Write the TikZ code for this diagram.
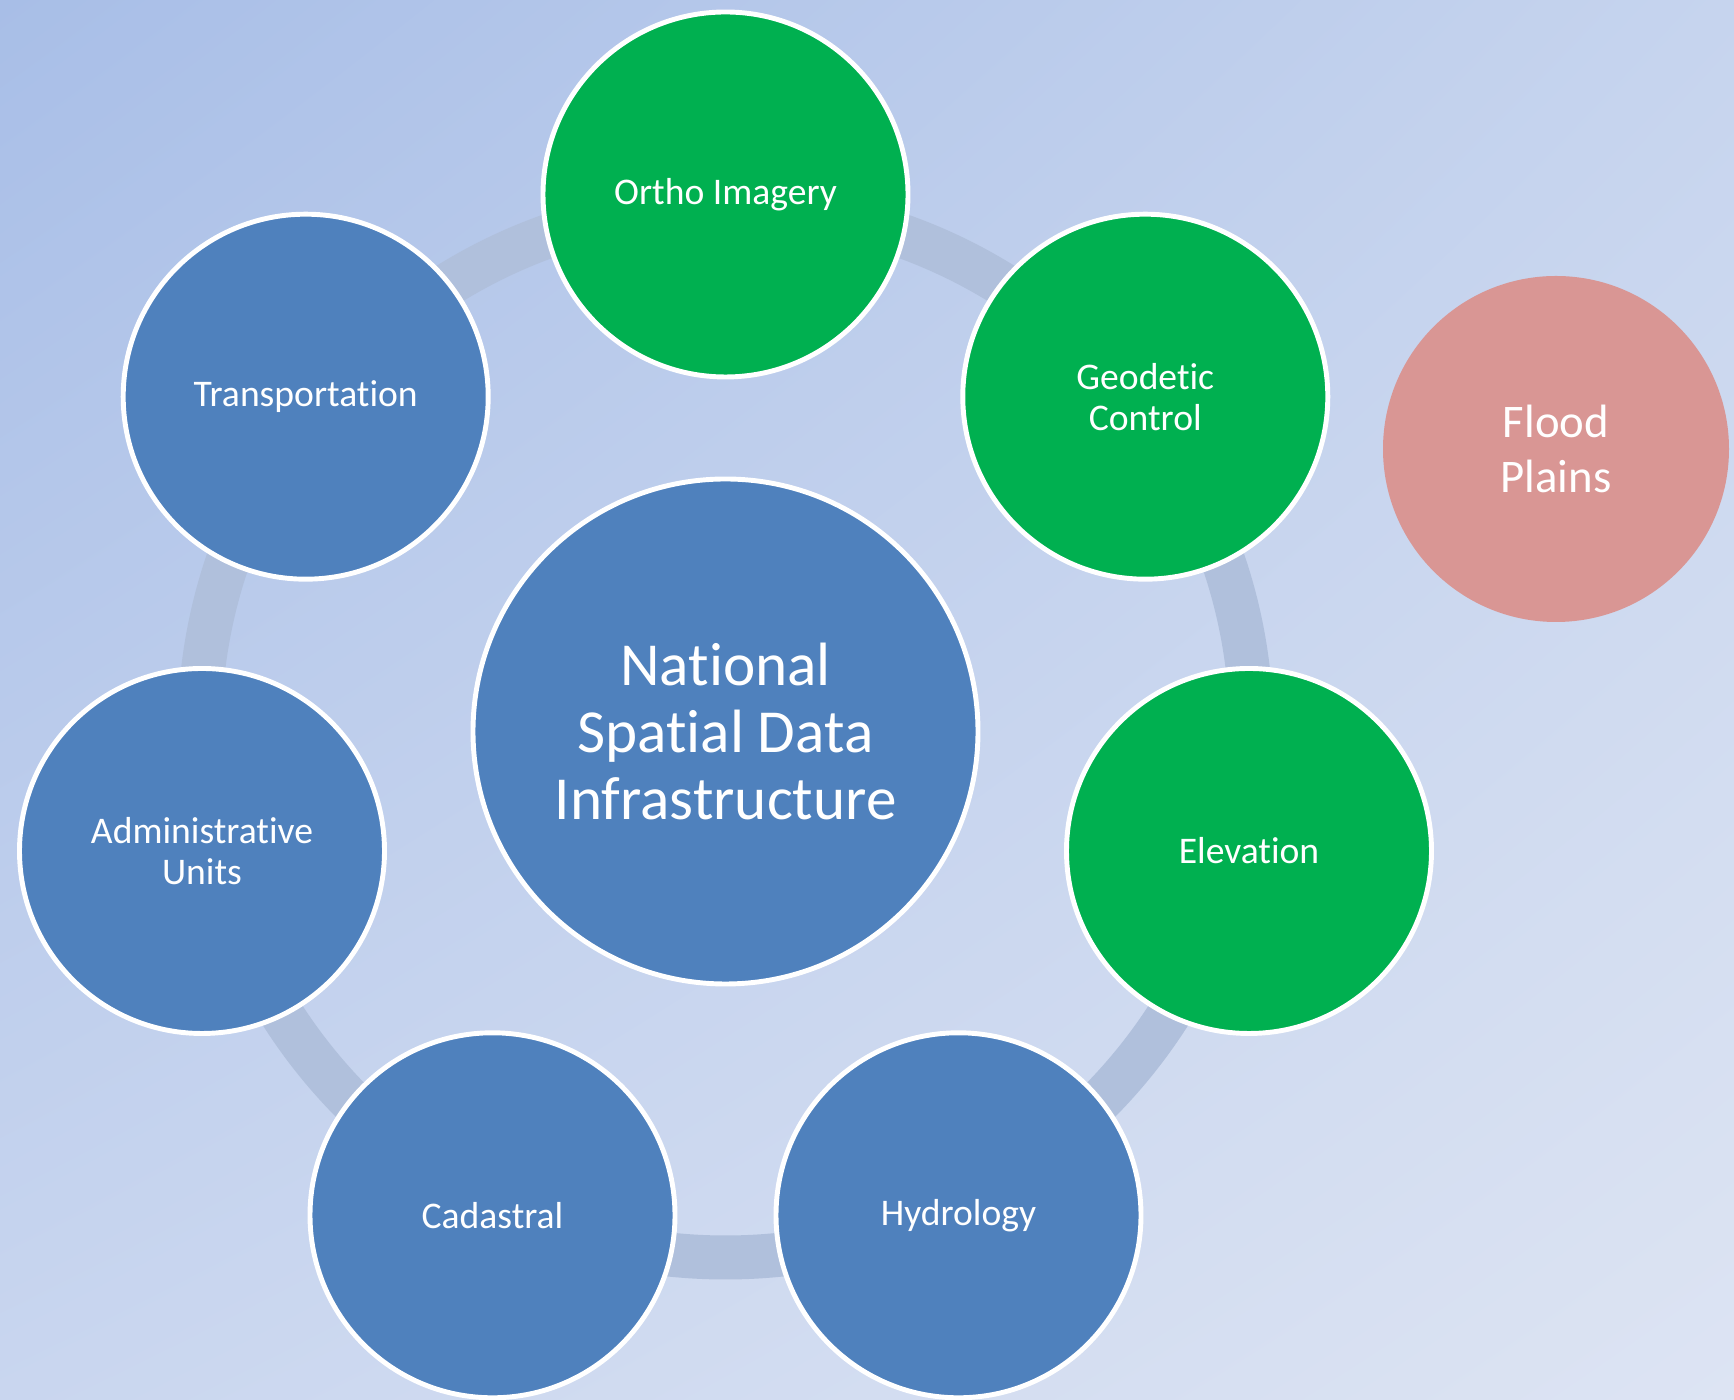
\documentclass[tikz,border=0pt]{standalone}
\usepackage{fontspec}
\setmainfont{Carlito}[Ligatures=NoCommon]
\usetikzlibrary{shadings}

\definecolor{themeblue}{HTML}{4F81BD}
\definecolor{themegreen}{HTML}{00B050}
\definecolor{floodpink}{HTML}{D99694}
\definecolor{ringgray}{HTML}{B0C0DC}
\definecolor{bgtl}{HTML}{A8BEE7}
\definecolor{bgtr}{HTML}{C6D4EE}
\definecolor{bgbl}{HTML}{C9D6EF}
\definecolor{bgbr}{HTML}{DDE4F3}

\tikzset{
  hub/.style={circle, draw=white, line width=1.4pt, fill=themeblue,
    minimum size=5.05cm, text=white, align=center,
    font=\fontsize{17.4}{19.2}\selectfont},
  topic/.style={circle, draw=white, line width=1.4pt, fill=themeblue,
    minimum size=3.65cm, text=white, align=center,
    font=\fontsize{10.7}{11.7}\selectfont},
  imagery/.style={topic, fill=themegreen},
  extra/.style={circle, fill=floodpink, minimum size=3.46cm, text=white,
    align=center, font=\fontsize{13.3}{15.9}\selectfont},
  ring/.style={draw=ringgray, line width=0.44cm}
}

\begin{document}
\begin{tikzpicture}
    \useasboundingbox (0, 0) rectangle (17.34, 14);
    \shade[upper left=bgtl, upper right=bgtr, lower left=bgbl, lower right=bgbr]
      (0, 0) rectangle (17.34, 14);
    \coordinate (mid) at (7.255, 6.685);
    \draw[ring] (mid) circle (5.26);
    \node[hub] (nsdi) at (mid) {National\\Spatial Data\\Infrastructure};
    \node[imagery] (ortho) at (7.255, 12.055) {Ortho Imagery};
    \node[imagery] (geodetic) at (11.453, 10.033) {Geodetic\\Control};
    \node[imagery] (elevation) at (12.490, 5.490) {Elevation};
    \node[topic] (hydro) at (9.585, 1.847) {Hydrology};
    \node[topic] (cadastral) at (4.925, 1.847) {Cadastral};
    \node[topic] (admin) at (2.020, 5.490) {Administrative\\Units};
    \node[topic] (transport) at (3.057, 10.033) {Transportation};
    \node[extra] (flood) at (15.56, 9.51) {Flood\\Plains};
  \end{tikzpicture}
\end{document}
